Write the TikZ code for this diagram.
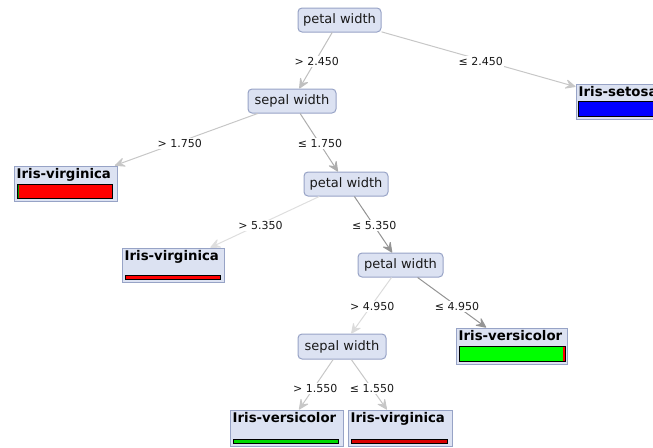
\documentclass[tikz,border=0pt]{standalone}
\usepackage{fontspec}
\setmainfont{DejaVu Sans}
\usetikzlibrary{arrows.meta,calc}
\definecolor{nodefill}{HTML}{DCE2F2}
\definecolor{nodeline}{HTML}{97A3C6}
\definecolor{redbar}{HTML}{FF0000}
\definecolor{greenbar}{HTML}{00FF00}
\definecolor{bluebar}{HTML}{0000FF}
\tikzset{
  decision/.style={draw=nodeline, fill=nodefill, rounded corners=4pt, line width=1pt,
    inner sep=0pt, font=\fontsize{13}{15}\selectfont, text=black!90},
  leafbox/.style={draw=nodeline, fill=nodefill, line width=1pt, inner sep=0pt},
  leaftext/.style={anchor=north west, inner sep=0pt, font=\fontsize{13.3}{15}\selectfont\bfseries, text=black},
  edge/.style={line width=1pt, -{Stealth[length=12pt,width=11pt,inset=5pt,round]}},
  elabel/.style={fill=white, inner sep=1.5pt, font=\fontsize{11}{13}\selectfont, text=black!90},
  barbox/.style={draw=black, line width=0.8pt}
}
\begin{document}
\begin{tikzpicture}[x=1pt,y=-1pt]
\useasboundingbox (0,0) rectangle (653,447);
\begin{scope}
\clip (0,0) rectangle (653,447);
% decision nodes
\node[decision, minimum width=83pt, minimum height=24pt] (pw1) at (339.5,20) {petal width};
\node[decision, minimum width=88pt, minimum height=24pt] (sw1) at (292,101) {sepal width};
\node[decision, minimum width=84pt, minimum height=24pt] (pw2) at (346,184) {petal width};
\node[decision, minimum width=85pt, minimum height=24pt] (pw3) at (400.5,265) {petal width};
\node[decision, minimum width=88pt, minimum height=25pt] (sw2) at (342,346.5) {sepal width};
% leaves
\node[leafbox, minimum width=104pt, minimum height=35pt] (set) at (628,101.5) {};
\node[leafbox, minimum width=103pt, minimum height=35pt] (vir1) at (65.5,183.5) {};
\node[leafbox, minimum width=102pt, minimum height=34pt] (vir2) at (173,265) {};
\node[leafbox, minimum width=111pt, minimum height=36pt] (ver1) at (511.5,346) {};
\node[leafbox, minimum width=113pt, minimum height=36pt] (ver2) at (286.5,428) {};
\node[leafbox, minimum width=104pt, minimum height=36pt] (vir3) at (400,428) {};
% edges
\draw[edge, color=black!22] (pw1) -- (set);
\draw[edge, color=black!25] (pw1) -- (sw1);
\draw[edge, color=black!22] (sw1) -- (vir1);
\draw[edge, color=black!32] (sw1) -- (pw2);
\draw[edge, color=black!13] (pw2) -- (vir2);
\draw[edge, color=black!42] (pw2) -- (pw3);
\draw[edge, color=black!14] (pw3) -- (sw2);
\draw[edge, color=black!42] (pw3) -- (ver1);
\draw[edge, color=black!22] (sw2) -- (ver2);
\draw[edge, color=black!22] (sw2) -- (vir3);
% edge labels at centre-to-centre midpoints
\node[elabel] (l1) at ($(pw1)!0.5!(set)+(-3,1)$) {≤ 2.450};
\node[elabel] (l2) at ($(pw1)!0.5!(sw1)+(1,1)$) {> 2.450};
\node[elabel] (l3) at ($(sw1)!0.5!(vir1)+(1,1)$) {> 1.750};
\node[elabel] (l4) at ($(sw1)!0.5!(pw2)+(1,1)$) {≤ 1.750};
\node[elabel] (l5) at ($(pw2)!0.5!(vir2)+(1,1)$) {> 5.350};
\node[elabel] (l6) at ($(pw2)!0.5!(pw3)+(1,1)$) {≤ 5.350};
\node[elabel] (l7) at ($(pw3)!0.5!(sw2)+(1,1)$) {> 4.950};
\node[elabel] (l8) at ($(pw3)!0.5!(ver1)+(1,1)$) {≤ 4.950};
\node[elabel] (l9) at ($(sw2)!0.5!(ver2)+(1,1)$) {> 1.550};
\node[elabel] (l10) at ($(sw2)!0.5!(vir3)+(1,1)$) {≤ 1.550};
% leaf texts
\node[leaftext] (tset) at ([xshift=3pt,yshift=-3pt]set.north west) {Iris-setosa};
\node[leaftext] (tvir1) at ([xshift=3pt,yshift=-3pt]vir1.north west) {Iris-virginica};
\node[leaftext] (tvir2) at ([xshift=3pt,yshift=-3pt]vir2.north west) {Iris-virginica};
\node[leaftext] (tver1) at ([xshift=3pt,yshift=-3pt]ver1.north west) {Iris-versicolor};
\node[leaftext] (tver2) at ([xshift=3pt,yshift=-3pt]ver2.north west) {Iris-versicolor};
\node[leaftext] (tvir3) at ([xshift=3pt,yshift=-3pt]vir3.north west) {Iris-virginica};
% bars
\fill[bluebar] (578,101) rectangle (678,116);
\draw[barbox] (578,101) rectangle (678,116);
\fill[redbar] (17,184) rectangle (112,198);
\fill[greenbar!60!black] (17,184) rectangle (19,198);
\draw[barbox] (17,184) rectangle (112,198);
\fill[redbar] (125,275) rectangle (220,279);
\draw[barbox] (125,275) rectangle (220,279);
\fill[greenbar] (459,346) rectangle (565,361);
\fill[redbar] (562.5,346) rectangle (565,361);
\draw[barbox] (459,346) rectangle (565,361);
\fill[greenbar!85!black] (233,439) rectangle (338,443);
\draw[barbox] (233,439) rectangle (338,443);
\fill[redbar!85!black] (351,439) rectangle (447,443);
\draw[barbox] (351,439) rectangle (447,443);
\end{scope}
\end{tikzpicture}
\end{document}
